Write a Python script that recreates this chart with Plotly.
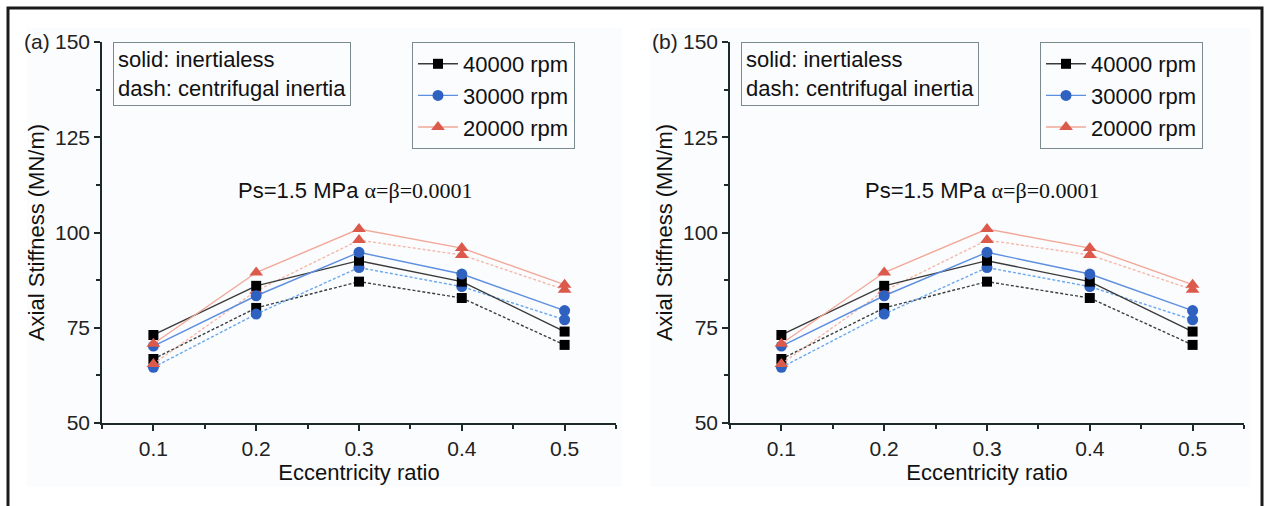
import plotly.graph_objects as go

W, H = 1268, 506

ecc = [0.1, 0.2, 0.3, 0.4, 0.5]
k40_inertialess = [73.1, 86.0, 92.6, 87.1, 74.0]
k40_centrifugal = [66.8, 80.2, 87.1, 82.8, 70.5]
k30_inertialess = [70.2, 83.4, 94.8, 89.1, 79.5]
k30_centrifugal = [64.6, 78.6, 90.8, 85.8, 77.1]
k20_inertialess = [70.8, 89.5, 100.9, 95.9, 86.3]
k20_centrifugal = [65.5, 84.7, 98.0, 94.1, 85.0]

speed_labels = ["40000 rpm", "30000 rpm", "20000 rpm"]
panel_labels = ["(a)", "(b)"]
x_ticks = [0.1, 0.2, 0.3, 0.4, 0.5]
y_ticks = [50, 75, 100, 125, 150]

series = [
    (speed_labels[0], k40_inertialess, k40_centrifugal, "square", "#000000", "#3a3a3a", "#3a4040", 10),
    (speed_labels[1], k30_inertialess, k30_centrifugal, "circle", "#2f62c0", "#5d8fe0", "#6aa8ee", 11),
    (speed_labels[2], k20_inertialess, k20_centrifugal, "triangle-up", "#dc5a4c", "#f2a898", "#f5b9aa", 12),
]

def px(x):
    return x / W

def py(y):
    return 1 - y / H

fig = go.Figure()

FONT = "Liberation Sans, Arial, sans-serif"
panels = [
    dict(xaxis="x", yaxis="y", legend="legend", x0=102, x1=616),
    dict(xaxis="x2", yaxis="y2", legend="legend2", x0=730, x1=1244),
]

for pi, p in enumerate(panels):
    for name, solid, dash, sym, mcol, lcol, dcol, msz in series:
        fig.add_trace(go.Scatter(
            x=ecc, y=dash, mode="lines+markers", name=name,
            line=dict(color=dcol, width=1.4, dash="3px,2px"),
            marker=dict(symbol=sym, color=mcol, size=msz),
            xaxis=p["xaxis"], yaxis=p["yaxis"], legend=p["legend"],
            showlegend=False))
    for name, solid, dash, sym, mcol, lcol, dcol, msz in series:
        fig.add_trace(go.Scatter(
            x=ecc, y=solid, mode="lines+markers", name=name,
            line=dict(color=lcol, width=1.4),
            marker=dict(symbol=sym, color=mcol, size=msz),
            xaxis=p["xaxis"], yaxis=p["yaxis"], legend=p["legend"],
            showlegend=True))

axis_common = dict(showline=True, linecolor="#1e2a2a", linewidth=1.5, mirror=False,
                   showgrid=False, zeroline=False, ticks="outside", ticklen=6,
                   tickwidth=1.5, tickcolor="#1e2a2a", automargin=False,
                   tickfont=dict(family=FONT, size=21, color="#222222"))

y0p, y1p = py(423), py(42)
layout = dict(
    template="none",
    width=W, height=H, margin=dict(l=0, r=0, t=0, b=0, autoexpand=False),
    paper_bgcolor="white", plot_bgcolor="rgba(0,0,0,0)",
    font=dict(family=FONT, color="#222222"),
)
for i, p in enumerate(panels):
    sx = "" if i == 0 else "2"
    layout["xaxis" + sx] = dict(
        axis_common, domain=[px(p["x0"]), px(p["x1"])], range=[0.05, 0.55],
        tickvals=x_ticks, ticktext=[f"{v:.1f}" for v in x_ticks],
        anchor="y" + sx,
        minor=dict(ticks="outside", ticklen=4, tickwidth=1.5, tickcolor="#1e2a2a", dtick=0.05, tick0=0.05),
        title=dict(text="Eccentricity ratio", font=dict(family=FONT, size=22, color="#111111"), standoff=4))
    layout["yaxis" + sx] = dict(
        axis_common, domain=[y0p, y1p], range=[50, 150], tickvals=y_ticks,
        anchor="x" + sx,
        minor=dict(ticks="outside", ticklen=4, tickwidth=1.5, tickcolor="#1e2a2a", dtick=12.5, tick0=50),
        title=dict(text="Axial Stiffness (MN/m)", font=dict(family=FONT, size=22, color="#111111"), standoff=4))
    leg = dict(x=px(p["x0"] + 310), y=py(42), xanchor="left", yanchor="top",
               bordercolor="#7a8a8e", borderwidth=1, bgcolor="rgba(255,255,255,0)",
               font=dict(family=FONT, size=22, color="#111111"),
               itemwidth=40, tracegroupgap=0)
    layout["legend" if i == 0 else "legend2"] = leg

fig.update_layout(**layout)

shapes = []
for x0, x1 in [(27, 622), (650, 1250)]:
    shapes.append(dict(type="rect", xref="paper", yref="paper", layer="below",
                       x0=px(x0), x1=px(x1), y0=py(487), y1=py(28),
                       fillcolor="#fbfcfe", line=dict(width=0)))
shapes.append(dict(type="path", xref="paper", yref="paper",
                   path=f"M {px(8)} {py(506)} L {px(8)} {py(8)} L {px(1262)} {py(8)} L {px(1262)} {py(506)}",
                   line=dict(color="#1a1a1a", width=3)))
fig.update_layout(shapes=shapes)

ann = []
for i, p in enumerate(panels):
    x0 = p["x0"]
    ann.append(dict(xref="paper", yref="paper", x=px(x0 - 4 - 46), y=py(42), xanchor="right", yanchor="middle",
                    text=panel_labels[i], showarrow=False, font=dict(family=FONT, size=21, color="#222222")))
    ann.append(dict(xref="paper", yref="paper", x=px(x0 + 11), y=py(42), xanchor="left", yanchor="top",
                    text="solid: inertialess<br>dash: centrifugal inertia", align="left", showarrow=False,
                    bordercolor="#7a8a8e", borderwidth=1, borderpad=4,
                    font=dict(family=FONT, size=22, color="#111111")))
    ann.append(dict(xref="paper", yref="paper", x=px(x0 + 253), y=py(190), xanchor="center", yanchor="middle",
                    text='Ps=1.5 MPa <span style="font-family:Liberation Serif, Times New Roman, serif">α=β=0.0001</span>',
                    showarrow=False, font=dict(family=FONT, size=22, color="#111111")))
fig.update_layout(annotations=ann)

fig.write_html("out.html", config={"displayModeBar": False},
               post_script="document.body.style.margin='0';document.body.style.overflow='hidden';")
